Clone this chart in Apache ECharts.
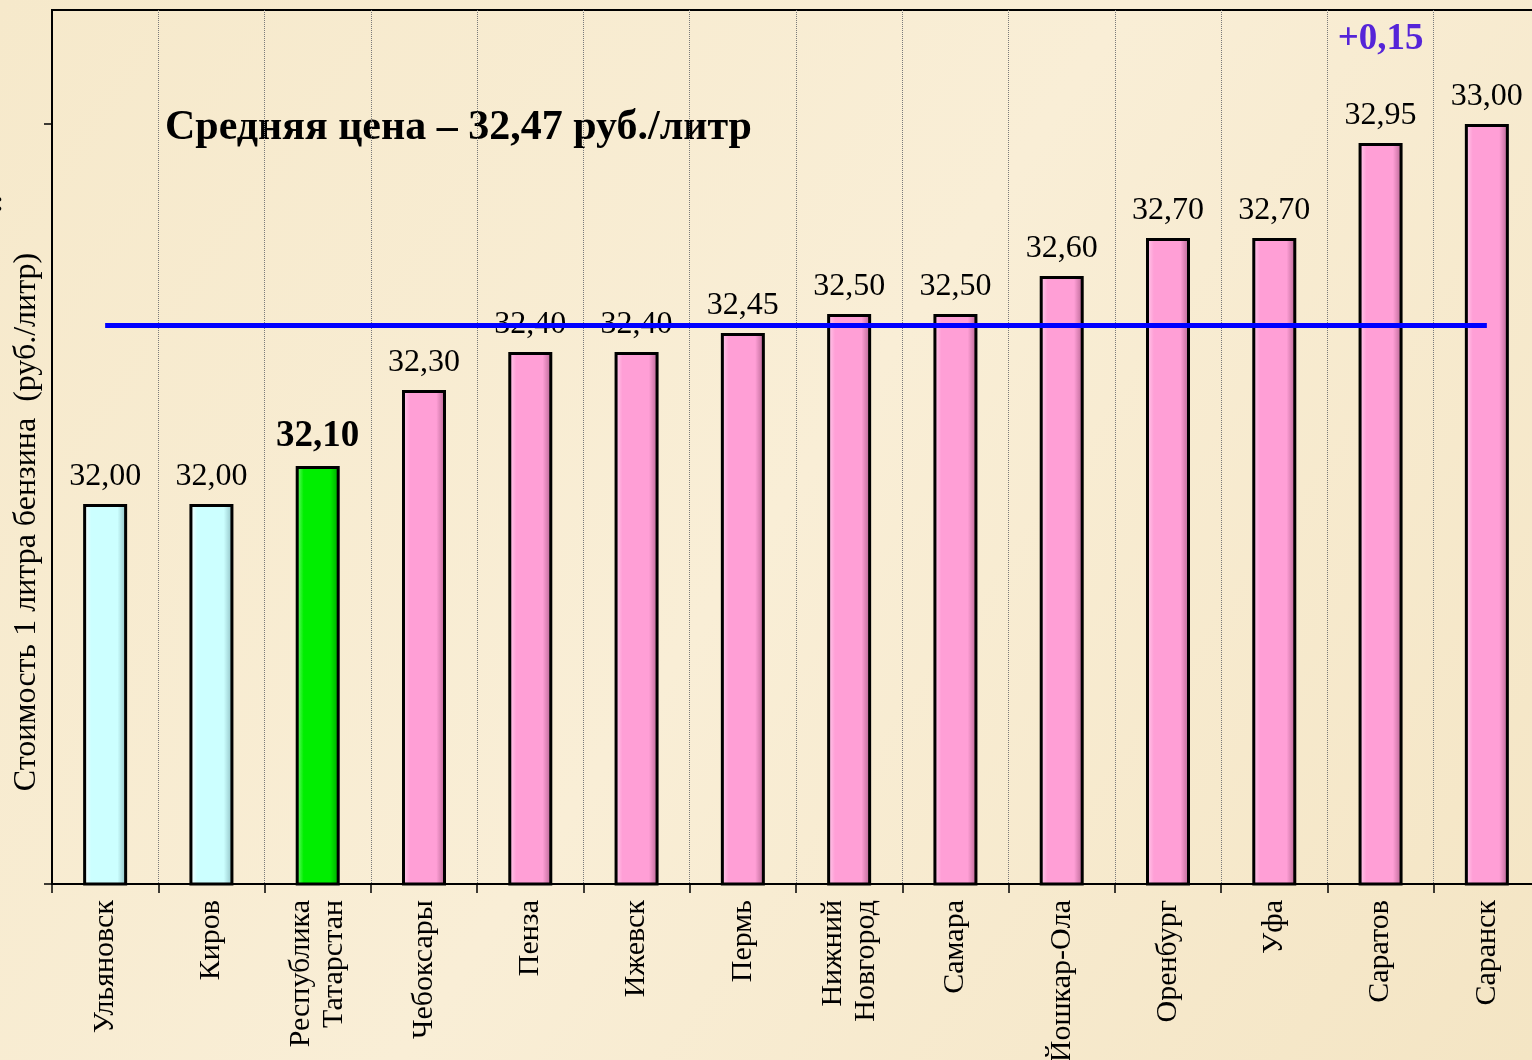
<!DOCTYPE html>
<html>
<head>
<meta charset="utf-8">
<script src="https://cdn.jsdelivr.net/npm/echarts@6/dist/echarts.min.js"></script>
<style>
  html, body { margin: 0; padding: 0; }
  #main { width: 1532px; height: 1060px; }
</style>
</head>
<body>
<div id="main"></div>
<script>
// данные
const cities = ['Ульяновск', 'Киров', 'Республика\nТатарстан', 'Чебоксары', 'Пенза', 'Ижевск', 'Пермь',
  'Нижний\nНовгород', 'Самара', 'Йошкар-Ола', 'Оренбург', 'Уфа', 'Саратов', 'Саранск'];
const prices = [32.00, 32.00, 32.10, 32.30, 32.40, 32.40, 32.45, 32.50, 32.50, 32.60, 32.70, 32.70, 32.95, 33.00];
const barKind = ['low', 'low', 'own', 'high', 'high', 'high', 'high', 'high', 'high', 'high', 'high', 'high', 'high', 'high'];
const avgPrice = 32.47;
const deltaCity = 'Саратов';
const deltaText = '+0,15';
const yTicks = [31, 33];

const serif = '"Liberation Serif", "Times New Roman", serif';

// цвета столбиков с объёмом
const palette = {
  low:  ['#ffffff', '#ccffff', '#88b8bc'],
  own:  ['#7dff7d', '#00ee00', '#00a000'],
  high: ['#ffd0ee', '#ff9fd6', '#b0608c']
};
function barColor(kind) {
  const c = palette[kind];
  return new echarts.graphic.LinearGradient(0, 0, 1, 0, [
    { offset: 0, color: c[0] },
    { offset: 0.18, color: c[1] },
    { offset: 0.78, color: c[1] },
    { offset: 1, color: c[2] }
  ]);
}
const fmt = v => v.toFixed(2).replace('.', ',');

const barData = prices.map((v, i) => ({
  value: v,
  itemStyle: { color: barColor(barKind[i]) }
}));

const chart = echarts.init(document.getElementById('main'));
const option = {
  backgroundColor: new echarts.graphic.LinearGradient(0, 0, 1, 1, [
    { offset: 0, color: '#f6e9cb' },
    { offset: 0.5, color: '#f9eed6' },
    { offset: 1, color: '#f4e5c4' }
  ]),
  animation: false,
  grid: {
    left: 52, top: 10, width: 1488, bottom: 176,
    outerBoundsMode: 'none', containLabel: false,
    show: true, borderColor: '#000', borderWidth: 2, backgroundColor: 'transparent'
  },
  xAxis: {
    type: 'category',
    data: cities,
    axisLine: { lineStyle: { color: '#000', width: 2 } },
    axisTick: { show: true, length: 9, lineStyle: { color: '#000', width: 1.5 } },
    splitLine: { show: true, lineStyle: { color: '#7a7a7a', type: 'dotted', width: 1 } },
    axisLabel: {
      rotate: 90, interval: 0, margin: 16,
      fontFamily: serif, fontSize: 30, color: '#000', lineHeight: 33
    }
  },
  yAxis: {
    type: 'value',
    min: yTicks[0], max: 33.3, interval: yTicks[1] - yTicks[0],
    axisLine: { show: true, lineStyle: { color: '#000', width: 2 } },
    axisTick: { show: true, length: 8, customValues: yTicks, lineStyle: { color: '#000', width: 1.5 } },
    axisLabel: { show: false },
    splitLine: { show: false }
  },
  graphic: [
    {
      type: 'text', x: 27, y: 522, rotation: Math.PI / 2,
      style: {
        text: 'Стоимость 1 литра бензина  (руб./литр)',
        font: '32px ' + serif, fill: '#000',
        align: 'center', verticalAlign: 'middle'
      }
    },
    {
      type: 'text', x: -6, y: 203,
      style: { text: ':', font: 'bold 30px ' + serif, fill: '#000', verticalAlign: 'middle' }
    },
    {
      type: 'text', x: 165, y: 128,
      style: {
        text: 'Средняя цена – ' + fmt(avgPrice) + ' руб./литр',
        font: 'bold 42px ' + serif, fill: '#000', verticalAlign: 'middle'
      }
    }
  ],
  series: [{
    type: 'bar',
    data: barData,
    barWidth: 44,
    itemStyle: { borderColor: '#000', borderWidth: 3 },
    label: {
      show: true, position: 'top', distance: 10,
      formatter: p => {
        let s = '';
        if (p.name === deltaCity) s = '{d|' + deltaText + '}\n{g|}\n';
        const style = barKind[p.dataIndex] === 'own' ? 'b' : 'v';
        return s + '{' + style + '|' + fmt(p.value) + '}';
      },
      rich: {
        v: { fontFamily: serif, fontSize: 32, color: '#000', lineHeight: 34 },
        b: { fontFamily: serif, fontSize: 37, fontWeight: 'bold', color: '#000', lineHeight: 40 },
        d: { fontFamily: serif, fontSize: 37, fontWeight: 'bold', color: '#5524d8', lineHeight: 40 },
        g: { fontSize: 10, lineHeight: 40 }
      }
    },
    markLine: {
      silent: true, symbol: 'none',
      label: { show: false },
      lineStyle: { color: '#0000ff', width: 5, type: 'solid' },
      data: [[
        { coord: [0, avgPrice] },
        { coord: [cities.length - 1, avgPrice] }
      ]]
    },
    z: 2
  }]
};
chart.setOption(option);
</script>
</body>
</html>
